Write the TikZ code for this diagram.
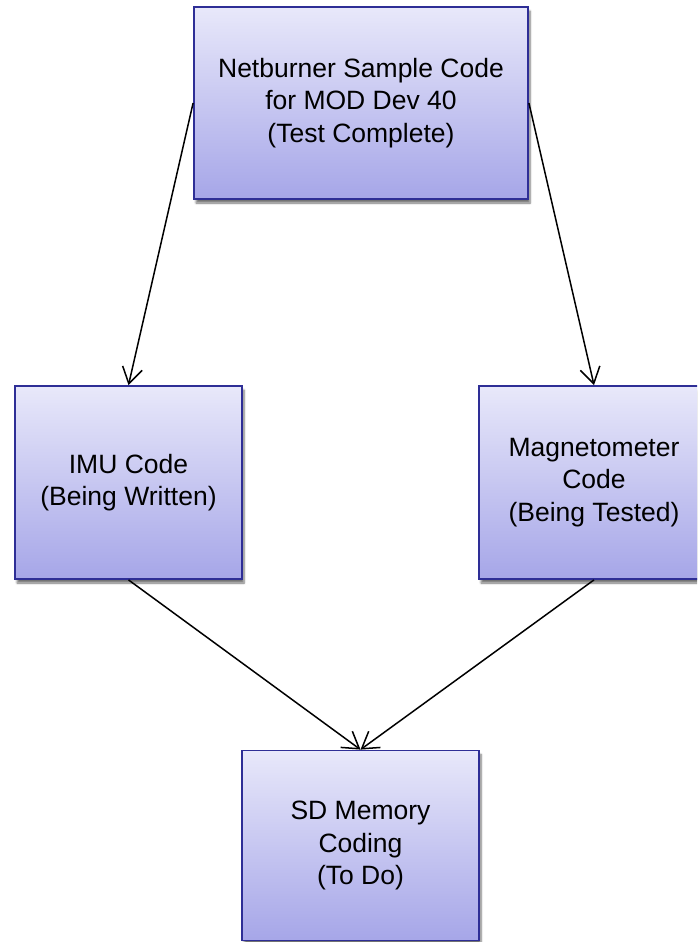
\documentclass[tikz,border=0pt]{standalone}
\usepackage{fontspec}
\setmainfont{Liberation Sans}
\usetikzlibrary{arrows.meta,shadows.blur}
\definecolor{boxtop}{RGB}{232,232,250}
\definecolor{boxbot}{RGB}{166,166,232}
\definecolor{boxline}{RGB}{46,46,150}
\begin{document}
\begin{tikzpicture}[x=1pt,y=-1pt,
  box/.style={rectangle, draw=boxline, line width=1.8pt, top color=boxtop, bottom color=boxbot,
    align=center, inner sep=0pt, font=\fontsize{26.5}{32.5}\selectfont,
    blur shadow={shadow xshift=2pt, shadow yshift=-4pt, shadow blur steps=6, shadow opacity=55}},
  conn/.style={line width=1.5pt, -{Straight Barb[length=16pt,width=20pt,line width=1.5pt]}}]
\useasboundingbox (0,0) rectangle (697,942);
\clip (0,0) rectangle (697,942);
\node[box, minimum width=334pt, minimum height=192pt] (top) at (361,103)
  {Netburner Sample Code\\for MOD Dev 40\\(Test Complete)};
\node[box, minimum width=227pt, minimum height=193pt] (imu) at (128.5,482.5)
  {IMU Code\\(Being Written)};
\node[box, minimum width=230pt, minimum height=193pt] (mag) at (594,482.5)
  {Magnetometer\\Code\\(Being Tested)};
\node[box, minimum width=237pt, minimum height=190pt] (sd) at (360.5,845.5)
  {SD Memory\\Coding\\(To Do)};
\draw[conn] (top.west) -- (imu.north);
\draw[conn] (top.east) -- (mag.north);
\draw[conn] (imu.south) -- (sd.north);
\draw[conn] (mag.south) -- (sd.north);
\end{tikzpicture}
\end{document}
